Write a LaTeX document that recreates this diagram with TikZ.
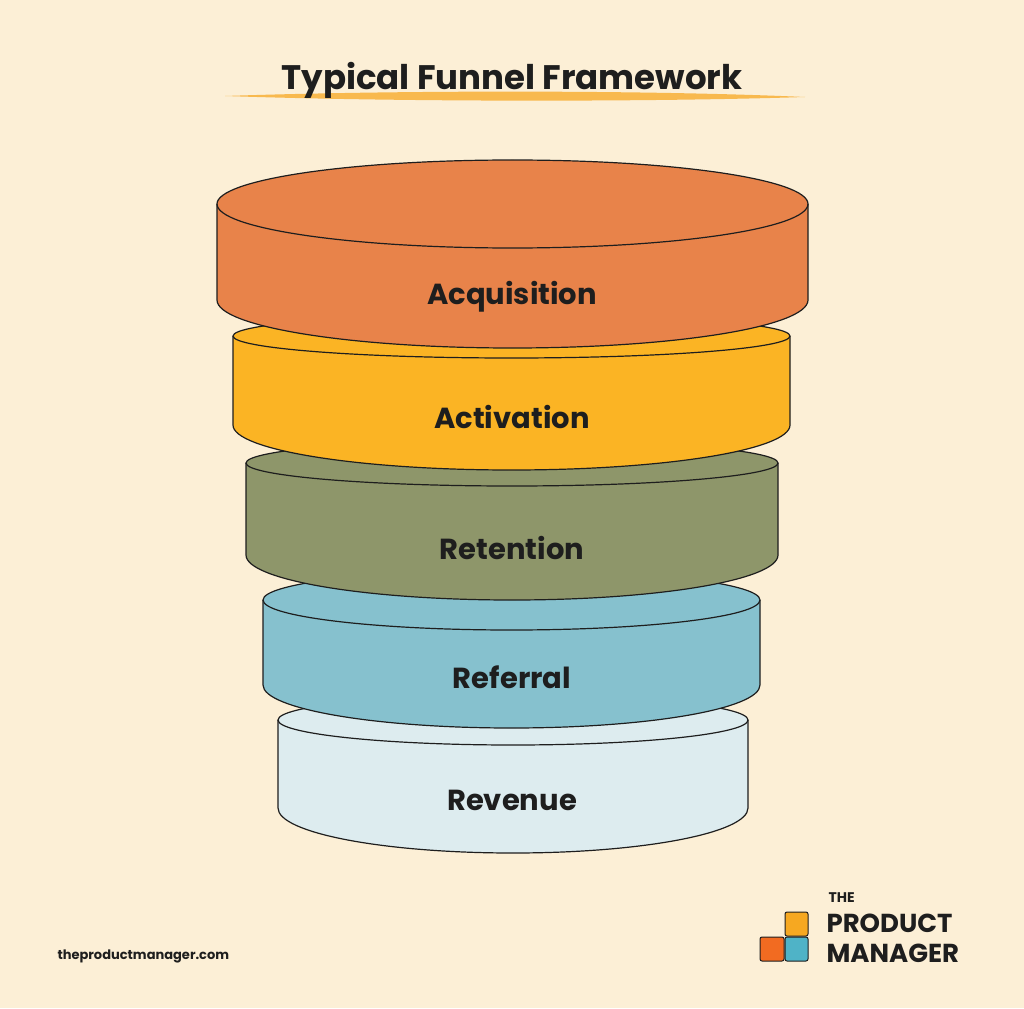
\documentclass[tikz,border=0pt]{standalone}
\usepackage{fontspec}
\setmainfont{Poppins}
\definecolor{bg}{HTML}{FCEFD6}
\definecolor{cA}{HTML}{E8834A}
\definecolor{cB}{HTML}{FBB424}
\definecolor{cC}{HTML}{8E966A}
\definecolor{cD}{HTML}{86C1CE}
\definecolor{cE}{HTML}{DDECEF}
\definecolor{ink}{HTML}{1E1E1E}
\definecolor{lgO}{HTML}{F26B21}
\definecolor{lgY}{HTML}{F6A821}
\definecolor{lgT}{HTML}{4FB3C7}
\tikzset{disk/.style={draw=ink,line width=1.2pt},
lbl/.style={font=\fontsize{29}{34}\selectfont\bfseries,text=ink},
sq/.style={draw=ink,line width=1pt,rounded corners=2pt}}
% #1 left x, #2 right x, #3 top center, #4 top ry, #5 bottom center, #6 bottom ry, #7 colour
\newcommand{\mydisk}[7]{%
\pgfmathsetmacro{\cx}{(#1+#2)/2}\pgfmathsetmacro{\rx}{(#2-#1)/2}%
\fill[#7] (#1,#3) -- (#1,#5) arc[start angle=180,end angle=360,x radius=\rx,y radius=-#6] -- (#2,#3) arc[start angle=0,end angle=180,x radius=\rx,y radius=-#4] -- cycle;
\draw[disk] (#1,#3) -- (#1,#5) arc[start angle=180,end angle=360,x radius=\rx,y radius=-#6] -- (#2,#3);
\draw[disk] (\cx,#3) ellipse[x radius=\rx,y radius=#4];}
\begin{document}
\begin{tikzpicture}[x=1pt,y=-1pt]
\fill[bg] (0,0) rectangle (1024,1008);
\useasboundingbox (0,0) rectangle (1024,1008);
\fill[lgY!80] (225,96) .. controls (400,90) and (650,90) .. (805,97) .. controls (650,102) and (400,102) .. (225,96);
\node[font=\fontsize{34}{40}\selectfont\bfseries,text=ink] (title) at (512,80) {Typical Funnel Framework};
\mydisk{278}{748}{720}{25}{808}{45}{cE}
\mydisk{263}{760}{600}{30}{685}{43}{cD}
\mydisk{246}{778}{463}{23}{555}{45}{cC}
\mydisk{233}{790}{336}{22}{425}{45}{cB}
\mydisk{217}{808}{204}{44}{300}{48}{cA}
\node[lbl] (l1) at (512,297) {Acquisition};
\node[lbl] (l2) at (512,417) {Activation};
\node[lbl] (l3) at (512,548) {Retention};
\node[lbl] (l4) at (512,677) {Referral};
\node[lbl] (l5) at (512,800) {Revenue};
\node[anchor=west,font=\fontsize{13}{15}\selectfont\bfseries,text=ink] (url) at (54,956) {theproductmanager.com};
\draw[sq,fill=lgY] (785,912) rectangle (808,936);
\draw[sq,fill=lgO] (760,937) rectangle (784,961);
\draw[sq,fill=lgT] (785,937) rectangle (808,961);
\node[anchor=west,font=\fontsize{14}{16}\selectfont\bfseries,text=ink] (the) at (825,898) {THE};
\node[anchor=west,font=\fontsize{26}{28}\selectfont\bfseries,text=ink] (prod) at (823,923) {PRODUCT};
\node[anchor=west,font=\fontsize{26}{28}\selectfont\bfseries,text=ink] (man) at (823,953) {MANAGER};
\end{tikzpicture}
\end{document}
